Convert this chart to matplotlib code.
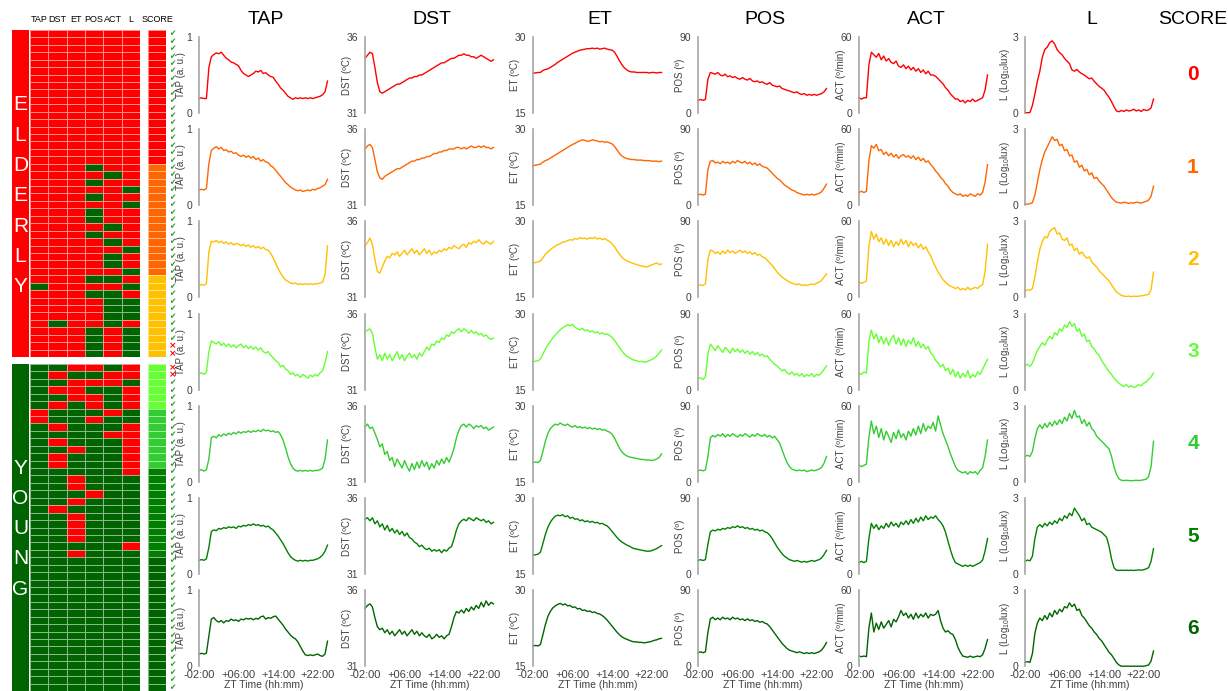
import numpy as np
import matplotlib
matplotlib.use("Agg")
import matplotlib.pyplot as plt
from matplotlib.colors import ListedColormap

plt.rcParams['font.family'] = ['Liberation Sans', 'DejaVu Sans']
plt.rcParams['mathtext.default'] = 'regular'

W, H = 1228, 691

# sampling times, ZT hours (every 30 min)
hours = np.arange(-2, 24.01, 0.5)

features = ['TAP', 'DST', 'ET', 'POS', 'ACT', 'L']
ylabels = ['TAP (a. u.)', 'DST (ºC)', 'ET (ºC)', 'POS (º)', 'ACT (º/min)', r'L (Log$_{10}$lux)']
yranges = [(0, 1), (31, 36), (15, 30), (0, 90), (0, 60), (0, 3)]
ytick_text = [('0', '1'), ('31', '36'), ('15', '30'), ('0', '90'), ('0', '60'), ('0', '3')]
score_colors = ['#FF0000', '#FF6600', '#FFC000', '#66FF33', '#33CC33', '#008000', '#006400']
xticks = [-2, 6, 14, 22]
xtick_labels = ['-02:00', '+06:00', '+14:00', '+22:00']

# one curve per score (0..6)
tap = [
    [0.19,0.20,0.19,0.19,0.60,0.74,0.77,0.79,0.78,0.80,0.76,0.72,0.70,0.67,0.66,0.64,0.62,0.56,0.52,0.50,0.48,0.50,0.52,0.55,0.54,0.56,0.52,0.53,0.50,0.48,0.47,0.42,0.38,0.33,0.30,0.26,0.22,0.20,0.18,0.20,0.19,0.20,0.19,0.20,0.19,0.20,0.19,0.20,0.21,0.22,0.24,0.28,0.42],
    [0.20,0.21,0.20,0.22,0.55,0.72,0.75,0.77,0.74,0.76,0.72,0.73,0.70,0.71,0.68,0.69,0.66,0.64,0.66,0.63,0.65,0.62,0.64,0.60,0.62,0.58,0.60,0.57,0.56,0.52,0.50,0.46,0.42,0.38,0.34,0.30,0.27,0.24,0.22,0.20,0.19,0.20,0.18,0.19,0.20,0.19,0.21,0.20,0.22,0.23,0.25,0.27,0.34],
    [0.16,0.17,0.16,0.18,0.60,0.74,0.73,0.75,0.72,0.74,0.71,0.73,0.70,0.72,0.69,0.71,0.70,0.68,0.70,0.67,0.69,0.66,0.68,0.65,0.67,0.64,0.66,0.63,0.62,0.58,0.52,0.45,0.38,0.32,0.27,0.23,0.21,0.19,0.18,0.19,0.17,0.18,0.17,0.18,0.17,0.18,0.17,0.18,0.18,0.19,0.20,0.30,0.68],
    [0.21,0.22,0.20,0.23,0.50,0.64,0.62,0.60,0.63,0.58,0.61,0.57,0.60,0.56,0.59,0.55,0.58,0.60,0.55,0.58,0.54,0.57,0.53,0.56,0.52,0.55,0.50,0.48,0.50,0.45,0.42,0.38,0.36,0.30,0.32,0.27,0.25,0.20,0.22,0.18,0.20,0.16,0.20,0.18,0.15,0.19,0.17,0.20,0.18,0.22,0.25,0.35,0.50],
    [0.15,0.16,0.14,0.16,0.30,0.58,0.60,0.58,0.62,0.60,0.63,0.61,0.64,0.62,0.65,0.63,0.66,0.64,0.66,0.65,0.67,0.65,0.67,0.66,0.68,0.66,0.69,0.67,0.68,0.66,0.67,0.65,0.66,0.62,0.55,0.45,0.33,0.24,0.18,0.15,0.14,0.15,0.14,0.15,0.14,0.15,0.14,0.15,0.15,0.16,0.18,0.30,0.55],
    [0.18,0.19,0.18,0.20,0.35,0.56,0.58,0.57,0.60,0.59,0.61,0.60,0.62,0.61,0.62,0.60,0.63,0.62,0.64,0.63,0.65,0.64,0.66,0.64,0.65,0.63,0.64,0.62,0.63,0.60,0.58,0.54,0.50,0.45,0.40,0.34,0.28,0.23,0.20,0.18,0.17,0.18,0.17,0.18,0.17,0.18,0.18,0.19,0.20,0.22,0.25,0.30,0.38],
    [0.16,0.17,0.16,0.17,0.40,0.62,0.64,0.60,0.58,0.60,0.57,0.60,0.59,0.62,0.60,0.61,0.59,0.62,0.61,0.63,0.62,0.63,0.61,0.63,0.62,0.65,0.66,0.62,0.64,0.63,0.65,0.66,0.62,0.58,0.54,0.49,0.45,0.41,0.38,0.36,0.32,0.26,0.20,0.15,0.14,0.15,0.14,0.15,0.16,0.14,0.13,0.16,0.33],
]
dst = [
    [34.6,34.8,35.0,34.9,34.0,33.0,32.4,32.3,32.4,32.5,32.6,32.7,32.8,32.9,32.9,33.0,33.1,33.2,33.3,33.3,33.4,33.4,33.5,33.5,33.6,33.7,33.8,33.9,34.0,34.1,34.2,34.3,34.3,34.4,34.5,34.6,34.6,34.7,34.8,34.8,34.9,34.8,34.8,34.7,34.7,34.6,34.7,34.8,34.7,34.6,34.5,34.4,34.5],
    [34.7,34.9,35.0,34.8,34.0,33.2,32.8,32.7,32.9,33.0,33.1,33.2,33.3,33.4,33.4,33.5,33.6,33.7,33.8,33.9,33.9,34.0,34.0,34.1,34.1,34.2,34.2,34.3,34.4,34.4,34.5,34.5,34.6,34.6,34.7,34.7,34.7,34.8,34.8,34.7,34.8,34.7,34.8,34.9,34.8,34.8,34.9,34.8,34.9,34.8,34.8,34.7,34.8],
    [34.4,34.6,34.9,34.5,33.5,32.7,32.6,33.0,33.4,33.7,33.6,33.9,33.8,34.0,33.7,33.9,34.1,33.8,34.0,34.2,33.9,34.1,33.8,34.0,34.2,33.9,34.1,33.8,34.0,33.9,34.1,34.0,34.2,34.1,34.3,34.2,34.4,34.3,34.2,34.4,34.5,34.3,34.6,34.5,34.7,34.6,34.8,34.6,34.5,34.7,34.6,34.5,34.7],
    [34.8,34.9,35.0,34.7,33.8,33.0,33.3,32.9,33.4,33.0,33.3,32.9,33.2,33.5,33.0,33.3,32.9,33.2,33.4,33.1,33.3,33.0,33.4,33.2,33.5,33.8,33.6,34.0,33.9,34.2,34.1,34.4,34.3,34.6,34.5,34.8,34.7,34.9,35.0,34.8,35.0,34.9,34.7,34.9,34.7,34.8,34.6,34.7,34.5,34.6,34.4,34.3,34.4],
    [34.6,34.8,34.5,34.6,34.2,33.8,33.3,33.5,32.8,33.0,32.4,32.6,32.0,32.5,32.2,31.9,32.4,32.0,31.7,32.2,31.8,32.3,31.9,32.4,32.0,32.3,31.8,32.2,31.9,32.4,32.1,32.5,32.2,32.6,32.3,32.7,33.2,33.9,34.4,34.7,34.8,34.6,34.8,34.7,34.5,34.7,34.6,34.7,34.5,34.6,34.4,34.5,34.6],
    [34.6,34.7,34.5,34.7,34.3,34.5,34.1,34.3,33.9,34.2,33.8,34.0,33.7,33.9,33.6,33.8,33.5,33.7,33.4,33.3,33.1,33.0,32.8,32.9,32.7,32.6,32.7,32.5,32.6,32.5,32.6,32.4,32.6,32.5,32.7,32.8,33.3,33.9,34.3,34.5,34.6,34.5,34.7,34.6,34.5,34.7,34.6,34.5,34.6,34.4,34.5,34.3,34.4],
    [34.8,35.0,35.1,34.9,34.2,33.6,33.4,33.5,33.2,33.4,33.1,33.3,33.0,33.2,33.4,33.1,33.3,33.0,33.2,33.4,33.1,33.3,33.0,33.2,33.0,32.9,33.1,32.8,32.9,33.1,32.9,33.0,32.8,33.0,33.1,33.6,34.2,34.6,34.5,34.7,34.5,34.8,34.6,34.9,34.7,35.0,34.8,35.2,34.9,35.3,35.0,35.2,35.1],
]
et = [
    [22.9,22.9,23.0,23.0,23.4,23.6,23.7,24.0,24.3,24.6,25.0,25.3,25.6,25.9,26.2,26.5,26.8,27.0,27.2,27.4,27.5,27.6,27.7,27.7,27.8,27.7,27.8,27.6,27.7,27.8,27.6,27.5,27.4,27.0,26.2,25.3,24.5,23.9,23.5,23.2,23.1,23.1,23.0,23.0,23.0,23.0,23.0,22.9,23.0,23.0,22.9,23.0,23.0],
    [22.8,22.9,23.0,23.1,23.5,23.8,24.0,24.3,24.6,24.9,25.2,25.5,25.8,26.1,26.4,26.7,27.0,27.2,27.5,27.7,27.9,27.8,27.6,27.7,27.9,27.8,27.7,27.5,27.6,27.4,27.5,27.3,27.1,26.6,25.9,25.2,24.7,24.4,24.2,24.1,24.0,24.0,23.9,23.9,23.9,23.8,23.8,23.8,23.7,23.7,23.7,23.6,23.7],
    [21.8,21.9,22.0,22.2,22.8,23.5,24.0,24.4,24.8,25.1,25.4,25.6,25.9,26.0,26.2,26.4,26.3,26.6,26.5,26.8,26.6,26.7,26.5,26.8,26.6,26.9,26.5,26.7,26.4,26.6,26.3,26.0,25.6,25.0,24.2,23.5,22.9,22.5,22.2,22.0,21.8,21.6,21.5,21.3,21.2,21.1,21.0,21.2,21.4,21.6,21.8,21.5,21.6],
    [20.5,20.6,20.7,21.0,22.0,23.0,23.8,24.5,25.2,25.8,26.3,26.8,27.2,27.5,27.8,27.6,27.9,27.3,27.0,26.8,27.1,26.6,26.8,26.4,26.6,26.2,26.4,26.0,26.2,25.9,26.0,25.7,25.3,24.7,24.0,23.3,22.6,22.0,21.6,21.3,21.0,20.8,20.7,20.5,20.6,20.4,20.5,20.7,20.9,21.2,21.6,22.2,22.8],
    [18.8,18.9,18.8,19.2,21.0,23.0,24.5,25.5,26.0,26.4,26.2,26.6,26.3,26.1,26.4,26.0,25.8,26.1,25.7,25.9,25.6,25.8,25.5,25.7,25.4,25.6,25.3,25.5,25.2,25.3,25.0,24.8,24.4,23.6,22.6,21.6,20.9,20.4,20.1,19.9,19.8,19.7,19.6,19.5,19.4,19.4,19.3,19.3,19.2,19.3,19.5,19.8,20.5],
    [18.7,18.8,18.9,19.3,21.0,22.8,24.2,25.2,25.9,26.4,26.6,26.5,26.7,26.3,26.5,26.0,26.2,25.8,25.9,25.5,25.7,25.3,25.5,25.2,25.4,25.1,25.2,24.9,25.0,24.7,24.5,24.0,23.4,22.8,22.2,21.7,21.3,21.0,20.7,20.5,20.2,20.0,19.9,19.8,19.7,19.6,19.5,19.5,19.6,19.8,20.0,20.3,20.6],
    [19.0,19.1,19.0,19.3,21.2,23.2,24.8,25.8,26.5,26.9,27.2,27.4,27.1,27.3,26.9,27.0,26.6,26.7,26.3,26.4,26.0,26.1,25.8,25.9,25.6,25.7,25.4,25.3,25.0,24.6,24.1,23.5,22.9,22.3,21.7,21.2,20.8,20.5,20.3,20.1,19.9,19.8,19.8,19.7,19.7,19.6,19.7,19.8,19.9,20.1,20.2,20.4,20.5],
]
pos = [
    [15,16,15,16,40,48,47,46,48,45,44,46,43,44,42,43,41,40,42,40,39,41,38,37,38,36,37,35,34,36,33,32,31,32,29,28,27,26,25,24,25,23,22,23,21,22,21,22,21,22,23,25,29],
    [12,13,12,13,42,52,53,50,51,49,52,50,51,49,52,50,53,51,50,52,49,51,48,50,47,49,46,45,44,41,38,35,32,30,27,24,22,20,18,17,15,14,13,12,13,12,13,12,13,14,16,20,25],
    [14,15,14,16,45,56,55,52,54,51,55,52,56,53,55,52,54,56,53,55,52,54,51,53,50,51,48,47,44,41,38,34,30,27,24,22,20,18,17,16,15,16,14,15,14,15,16,15,17,18,20,24,28],
    [13,14,12,15,42,54,50,46,52,48,44,50,47,43,49,45,48,44,47,43,46,42,45,41,44,40,42,39,40,36,33,30,28,25,22,24,20,18,21,17,19,16,19,15,18,16,19,15,18,17,20,24,28],
    [13,14,13,14,30,52,55,53,56,54,57,53,56,54,57,55,53,56,54,57,55,53,56,54,57,55,54,56,53,55,52,54,50,46,38,30,23,18,15,14,13,14,13,14,12,13,14,13,14,15,17,22,30],
    [16,17,16,17,35,50,52,51,53,52,54,53,55,54,56,55,57,55,56,54,55,53,54,52,53,51,52,50,49,46,42,37,32,28,24,21,19,17,16,15,16,15,14,15,14,15,16,15,16,17,19,23,28],
    [16,17,16,17,40,56,58,55,57,55,58,56,57,55,58,56,57,55,56,54,56,54,55,53,54,52,53,51,50,47,43,39,35,31,27,24,21,19,18,17,16,17,16,15,16,15,16,15,16,17,19,23,28],
]
act = [
    [12,11,12,12,38,48,46,44,47,42,45,41,43,40,39,41,37,36,38,35,37,34,36,33,35,32,34,31,33,30,30,29,27,25,23,20,18,15,13,11,11,9,10,8,10,9,11,9,10,11,12,18,30],
    [10,11,10,11,35,47,45,48,43,44,40,42,39,41,38,40,37,39,40,38,39,37,39,36,38,35,37,34,35,32,30,27,25,22,20,17,15,12,10,9,8,9,7,8,7,9,8,7,9,8,10,18,32],
    [12,11,12,13,40,52,46,50,44,47,42,46,41,45,40,44,41,46,42,45,40,44,41,43,39,42,38,40,36,33,28,24,20,17,14,12,10,9,8,7,8,6,7,6,8,6,7,8,7,9,10,20,42],
    [13,12,14,13,38,47,40,44,37,42,36,41,35,40,43,36,41,35,40,34,39,36,41,34,38,33,36,32,34,29,27,23,21,18,20,15,17,12,16,10,14,9,13,10,15,9,12,10,14,12,16,20,24],
    [13,12,13,14,35,48,38,44,35,42,33,40,36,31,39,34,41,35,38,33,40,36,42,37,44,38,46,40,44,42,47,40,52,45,38,33,28,22,17,12,9,8,7,8,6,8,7,8,6,9,11,20,33],
    [9,10,9,10,28,40,36,39,35,38,36,40,37,41,38,40,37,41,39,42,39,43,40,44,41,45,42,46,43,45,44,46,43,41,38,33,26,19,13,9,8,7,6,7,6,7,6,7,8,9,11,18,28],
    [8,7.5,8,7.5,30,42,27,34,29,35,30,33,36,31,37,35,39,44,40,42,38,41,37,42,38,41,39,42,38,41,40,41,44,36,30,27,28,26,25,21,15,11,8,7.5,7,8,7,7.5,8,7.5,9,14,21],
]
light = [
    [0.02,0.01,0.02,0.30,0.75,1.25,1.65,2.20,2.50,2.60,2.78,2.85,2.72,2.50,2.38,2.30,2.15,2.05,1.95,1.70,1.65,1.72,1.62,1.55,1.50,1.42,1.35,1.38,1.25,1.15,1.05,0.98,0.90,0.75,0.62,0.45,0.25,0.08,0.05,0.10,0.06,0.12,0.08,0.10,0.15,0.08,0.12,0.06,0.14,0.10,0.12,0.20,0.55],
    [0.05,0.04,0.06,0.10,0.40,0.90,1.40,1.80,2.10,2.30,2.50,2.70,2.55,2.60,2.35,2.40,2.15,2.20,1.95,1.98,1.70,1.75,1.50,1.58,1.35,1.42,1.20,1.28,1.05,1.10,0.95,0.85,0.75,0.60,0.45,0.30,0.20,0.12,0.10,0.08,0.12,0.10,0.07,0.10,0.08,0.12,0.10,0.08,0.12,0.15,0.20,0.35,0.75],
    [0.25,0.30,0.28,0.35,0.80,1.40,1.90,2.20,2.40,2.35,2.60,2.70,2.75,2.50,2.55,2.30,2.25,2.35,2.05,2.10,1.85,1.95,1.70,1.80,1.65,1.55,1.60,1.40,1.30,1.20,1.05,0.95,0.85,0.75,0.65,0.50,0.35,0.22,0.15,0.08,0.05,0.04,0.05,0.03,0.05,0.04,0.05,0.06,0.08,0.10,0.12,0.30,1.00],
    [0.95,1.00,0.92,1.05,1.30,1.55,1.70,1.85,1.75,1.95,2.10,2.00,2.25,2.15,2.40,2.30,2.55,2.45,2.68,2.50,2.60,2.30,2.40,2.10,2.20,1.90,1.95,1.70,1.60,1.45,1.35,1.15,1.00,0.85,0.70,0.60,0.45,0.35,0.25,0.18,0.12,0.20,0.10,0.15,0.08,0.12,0.20,0.15,0.25,0.30,0.40,0.50,0.65],
    [1.00,1.05,1.00,1.20,1.70,2.10,2.25,2.10,2.30,2.15,2.35,2.20,2.40,2.25,2.45,2.30,2.55,2.40,2.70,2.50,2.82,2.55,2.60,2.30,2.45,2.20,2.35,2.10,2.00,1.80,1.70,1.60,1.50,1.40,1.30,1.00,0.60,0.30,0.12,0.06,0.05,0.06,0.05,0.04,0.05,0.06,0.05,0.06,0.08,0.10,0.20,0.60,1.60],
    [0.50,0.55,0.52,0.70,1.40,1.85,1.95,1.85,2.00,1.90,2.05,1.95,2.10,2.00,2.20,2.10,2.30,2.20,2.40,2.30,2.60,2.45,2.30,2.10,2.20,1.95,2.00,1.85,1.80,1.75,1.70,1.65,1.55,1.45,1.10,0.60,0.25,0.15,0.14,0.15,0.14,0.15,0.14,0.15,0.14,0.15,0.16,0.15,0.17,0.20,0.25,0.50,1.00],
    [0.15,0.18,0.15,0.50,1.30,1.70,1.90,1.80,2.00,1.85,
     2.10,1.95,2.20,2.05,2.25,2.15,2.35,2.30,2.50,2.35,
     2.45,2.20,2.25,2.00,1.90,1.75,1.60,1.50,1.35,1.25,
     1.10,1.00,0.85,0.70,0.55,0.45,0.30,0.15,0.05,0.00,
     0.00,0.00,0.00,0.00,0.00,0.00,0.00,0.00,0.00,0.02,
     0.05,0.20,0.60],
]
series = [tap, dst, et, pos, act, light]
for name, s in zip(features, series):
    for r, vals in enumerate(s):
        if len(vals) != len(hours):
            raise ValueError(f'{name} score {r}: {len(vals)} values')

# subject rows: 1 = young-like feature (green), 0 = elderly-like (red); order TAP DST ET POS ACT L
elderly = (['000000'] * 18 +
           ['000100', '000010', '000100', '000001', '000100', '000001', '000100', '000100',
            '000010', '000100', '000010', '000001', '000010', '000010', '000001'] +
           ['000110', '100001', '000110', '000011', '000011', '000011', '010010',
            '000101', '000101', '000101', '000101'])
young = (['110010', '101100', '110001', '100110', '110010', '101010'] +
         ['011101', '011011', '101110', '111100', '101110', '110110', '101110', '101110'] +
         ['111110', '110111', '110111', '111011', '110111', '101111', '110111', '110111',
          '110111', '110111', '111110', '110111'] +
         ['111111'] * 18)
elderly_wrong = [42, 43]
young_wrong = [0, 1]

fig = plt.figure(figsize=(W / 100, H / 100), dpi=100)


def box(x0, y0, x1, y1):
    return fig.add_axes([x0 / W, 1 - y1 / H, (x1 - x0) / W, (y1 - y0) / H])


def ptext(x, y, s, **kw):
    fig.text(x / W, 1 - y / H, s, **kw)


# ---- left: classification table ----
cell_cmap = ListedColormap(['#FF0000', '#006400'])
score_cmap = ListedColormap(score_colors)
edge = (1, 1, 1, 0.55)

groups = [(elderly, 30, 357, '#FF0000', 'ELDERLY', 105, elderly_wrong),
          (young, 364, 691, '#006400', 'YOUNG', 468, young_wrong)]
for grid, y0, y1, lab_col, word, ly, wrong in groups:
    m = np.array([[int(ch) for ch in row] for row in grid])
    n = len(grid)
    ax = box(30, y0, 140, y1)
    ax.pcolormesh(m, cmap=cell_cmap, vmin=0, vmax=1, edgecolors=edge, linewidth=0.6)
    ax.set_ylim(n, 0)
    ax.axis('off')

    ax = box(148, y0, 166, y1)
    ax.pcolormesh(m.sum(axis=1)[:, None], cmap=score_cmap, vmin=-0.5, vmax=6.5,
                  edgecolors=edge, linewidth=0.6)
    ax.set_ylim(n, 0)
    ax.axis('off')
    tr = ax.get_yaxis_transform()
    for i in range(n):
        if i in wrong:
            ax.text(1.35, i + 0.5, '×', transform=tr, color='#FF0000', fontsize=6.5,
                    fontweight='bold', ha='center', va='center', family='DejaVu Sans')
        else:
            ax.text(1.35, i + 0.5, '✔', transform=tr, color='#2E9A2E', fontsize=5.5,
                    ha='center', va='center', family='DejaVu Sans')

    ax = box(12, y0, 29, y1)
    ax.set_facecolor(lab_col)
    ax.set_xticks([])
    ax.set_yticks([])
    for s in ax.spines.values():
        s.set_visible(False)
    for k, ch in enumerate(word):
        ptext(20.5, ly + 30.3 * k, ch, color='white', fontsize=15, ha='center', va='center')

for k, name in enumerate(features):
    ptext(30 + 18.33 * (k + 0.5), 20, name, fontsize=6.5, ha='center', va='center')
ptext(157, 20, 'SCORE', fontsize=6.5, ha='center', va='center')

# ---- right: mean profiles per score ----
col_x = [199, 365, 533, 698, 859, 1025]
for r in range(7):
    top = 37 + 92.2 * r
    for c in range(6):
        ax = box(col_x[c], top, col_x[c] + 130, top + 76)
        ax.set_facecolor('none')
        ax.plot(hours, series[c][r], color=score_colors[r], lw=1.0, clip_on=False)
        lo, hi = yranges[c]
        ax.set_xlim(-2, 24.3)
        ax.set_ylim(lo, hi)
        ax.set_yticks([lo, hi])
        ax.set_yticklabels(ytick_text[c])
        for s in ('top', 'right', 'bottom'):
            ax.spines[s].set_visible(False)
        ax.spines['left'].set_color('#A6A6A6')
        ax.spines['left'].set_linewidth(1.2)
        ax.tick_params(length=0, labelsize=7.5, labelcolor='#404040', pad=5)
        lab = ylabels[c]
        if r == 6 and c == 0:
            lab = 'TAP (a.u.)'
        ax.set_ylabel(lab, fontsize=7, color='#404040')
        ax.yaxis.set_label_coords(-0.1, 0.5)
        if r == 6:
            ax.set_xticks(xticks)
            ax.tick_params(axis='x', pad=3)
            ax.set_xticklabels(xtick_labels, fontsize=8)
            ax.set_xlabel('ZT Time (hh:mm)', fontsize=7.5, color='#404040', labelpad=0)
        else:
            ax.set_xticks([])
    ptext(1193, top + 38, str(r), fontsize=15, fontweight='bold', color=score_colors[r],
          ha='center', va='center')

for c in range(6):
    ptext(col_x[c] + 67, 20, features[c], fontsize=14, ha='center', va='center')
ptext(1193, 20, 'SCORE', fontsize=14, ha='center', va='center')

fig.savefig('out.png', dpi=100)
